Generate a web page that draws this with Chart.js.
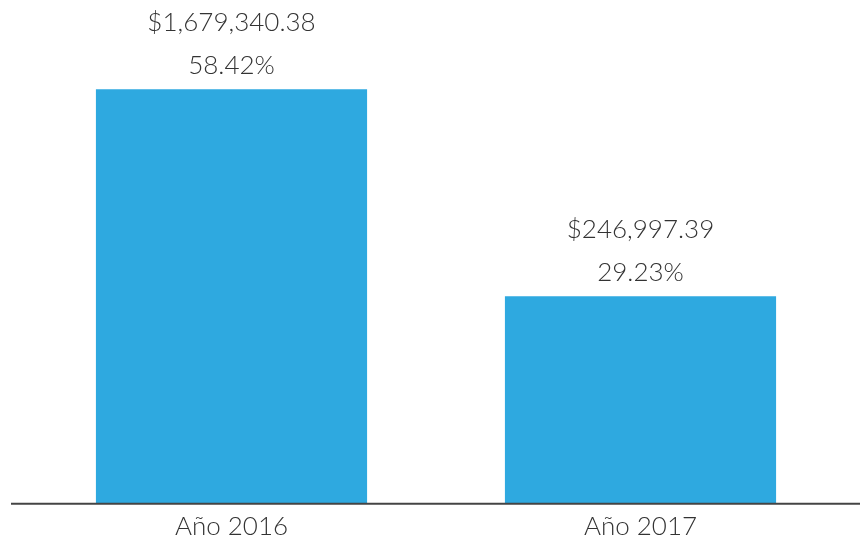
<!DOCTYPE html>
<html>
<head>
<meta charset="utf-8">
<script src="https://cdn.jsdelivr.net/npm/chart.js@4/dist/chart.umd.min.js"></script>
<style>
  body { margin: 0; background: #fff; }
  canvas { display: block; }
</style>
</head>
<body>
<canvas id="chart" width="860" height="542"></canvas>
<script>
// data
const years = ['Año 2016', 'Año 2017']
const amounts = ['$1,679,340.38', '$246,997.39']
const percents = [58.42, 29.23]

const textColor = '#333333'
const barColor = '#2EA9E0'

// baseline runs wider than the bars' category area
const baseline = {
  id: 'baseline',
  afterDatasetsDraw(chart) {
    const ctx = chart.ctx
    const y = chart.scales.y.getPixelForValue(0)
    ctx.save()
    ctx.strokeStyle = '#444444'
    ctx.lineWidth = 2
    ctx.beginPath()
    ctx.moveTo(11, y)
    ctx.lineTo(860, y)
    ctx.stroke()
    ctx.restore()
  }
}

const barLabels = {
  id: 'barLabels',
  afterDatasetsDraw(chart) {
    const ctx = chart.ctx
    const meta = chart.getDatasetMeta(0)
    ctx.save()
    ctx.fillStyle = textColor
    ctx.font = '300 26px Lato'
    ctx.textAlign = 'center'
    ctx.textBaseline = 'middle'
    meta.data.forEach((bar, i) => {
      ctx.fillText(amounts[i], bar.x, bar.y - 67)
      ctx.fillText(percents[i].toFixed(2) + '%', bar.x, bar.y - 24)
    })
    ctx.restore()
  }
}

new Chart(document.getElementById('chart'), {
  type: 'bar',
  data: {
    labels: years,
    datasets: [{
      data: percents,
      backgroundColor: barColor,
      categoryPercentage: 1,
      barPercentage: 0.663
    }]
  },
  options: {
    responsive: false,
    animation: false,
    layout: { padding: { left: 27, right: 15, top: 78, bottom: 1 } },
    plugins: { legend: { display: false }, tooltip: { enabled: false } },
    scales: {
      x: {
        grid: { display: false },
        border: { display: false },
        ticks: { color: textColor, font: { family: 'Lato', size: 26, weight: 300 }, padding: -1 }
      },
      y: { display: false, min: 0, max: 60 }
    }
  },
  plugins: [baseline, barLabels]
})
</script>
</body>
</html>
